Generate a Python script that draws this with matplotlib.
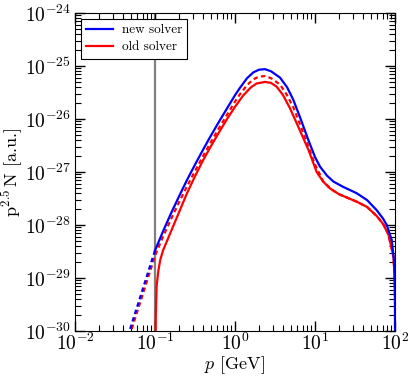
import matplotlib
matplotlib.use('Agg')
import matplotlib.pyplot as plt
import numpy as np

plt.rcParams['font.family'] = 'serif'
plt.rcParams['font.serif'] = ['cmr10', 'DejaVu Serif']
plt.rcParams['mathtext.fontset'] = 'cm'
plt.rcParams['axes.formatter.use_mathtext'] = True

# values, as log10(p) and log10(p^2.5 N)
new_logp = [-1.0, -0.9, -0.8, -0.7, -0.6, -0.5, -0.4, -0.3, -0.2, -0.1, 0.0, 0.0625, 0.15,
            0.229, 0.3, 0.375, 0.45, 0.5625, 0.65, 0.729, 0.82, 0.917, 1.0, 1.0625, 1.15,
            1.229, 1.35, 1.52, 1.65, 1.77, 1.85, 1.896, 1.958, 1.99, 1.999, 2.0]
new_logy = [-28.48, -28.12, -27.78, -27.46, -27.15, -26.86, -26.58, -26.31, -26.05, -25.8, -25.55,
            -25.41, -25.23, -25.12, -25.07, -25.06, -25.10, -25.22, -25.40, -25.64, -26.0, -26.40,
            -26.72, -26.90, -27.07, -27.18, -27.28, -27.40, -27.53, -27.72, -27.88, -28.0, -28.28,
            -28.72, -29.2, -30.5]

new_ext_logp = [-1.34, -1.0]
new_ext_logy = [-30.1, -28.48]

old_logp = [-0.993, -0.99, -0.98, -0.96, -0.935, -0.9, -0.85, -0.8, -0.7, -0.6, -0.5, -0.4,
            -0.3, -0.2, -0.1, 0.0, 0.1, 0.2, 0.27, 0.375, 0.45, 0.52, 0.6, 0.6875, 0.8,
            0.917, 1.02, 1.1, 1.1875, 1.3, 1.52, 1.65, 1.77, 1.85, 1.917, 1.98, 1.995, 2.0, 2.0]
old_logy = [-30.1, -29.7, -29.15, -28.88, -28.66, -28.48, -28.3, -28.12, -27.76, -27.40, -27.08, -26.78,
            -26.51, -26.25, -26.0, -25.77, -25.56, -25.40, -25.33, -25.30, -25.32, -25.39, -25.55,
            -25.80, -26.18, -26.58, -27.0, -27.18, -27.31, -27.42, -27.56, -27.66, -27.83, -27.98,
            -28.18, -28.6, -29.0, -29.54, -30.5]

olddash_logp = [-1.32, -1.0, -0.9, -0.8, -0.7, -0.6, -0.5, -0.4, -0.3, -0.2, -0.1, 0.0, 0.0625,
                0.15, 0.229, 0.3, 0.375, 0.45, 0.5625, 0.65, 0.729, 0.82, 0.917, 1.0, 1.1, 1.1875,
                1.3, 1.52, 1.65, 1.77, 1.85, 1.917, 1.98, 1.995, 2.0, 2.0]
olddash_logy = [-30.1, -28.58, -28.22, -27.89, -27.57, -27.27, -26.98, -26.70, -26.43, -26.17, -25.92,
                -25.67, -25.53, -25.36, -25.25, -25.20, -25.19, -25.23, -25.35, -25.55, -25.78,
                -26.13, -26.52, -26.86, -27.17, -27.31, -27.42, -27.56, -27.66, -27.83, -27.98,
                -28.18, -28.6, -29.0, -29.54, -30.5]


def lin(a):
    return 10**np.asarray(a)


fig = plt.figure(figsize=(4.13, 3.82), dpi=100)
ax = fig.add_axes([0.1816, 0.1335, 0.775, 0.8325])

ax.axvline(0.1, color='gray', lw=1.6, zorder=1)

ax.plot(lin(new_logp), lin(new_logy), color='blue', lw=1.6, label='new solver', zorder=3)
ax.plot(lin(new_ext_logp), lin(new_ext_logy), color='blue', lw=1.6, ls=(0, (2, 1.5)), zorder=3)
ax.plot(lin(old_logp), lin(old_logy), color='red', lw=1.6, label='old solver', zorder=2)
ax.plot(lin(olddash_logp), lin(olddash_logy), color='red', lw=1.6, ls=(0, (2, 1.5)), zorder=2)

ax.set_xscale('log')
ax.set_yscale('log')
ax.set_xlim(1e-2, 1e2)
ax.set_ylim(1e-30, 1e-24)

ax.tick_params(which='both', direction='in', top=True, right=True, labelsize=14)
ax.tick_params(axis='x', pad=1.5)
ax.tick_params(axis='y', pad=3)
ax.tick_params(which='major', length=7, width=1)
ax.tick_params(which='minor', length=4, width=0.8)
ax.yaxis.set_major_locator(matplotlib.ticker.LogLocator(base=10, numticks=10))
ax.yaxis.set_minor_locator(matplotlib.ticker.LogLocator(base=10, subs=np.arange(2, 10), numticks=20))
ax.xaxis.set_minor_locator(matplotlib.ticker.LogLocator(base=10, subs=np.arange(2, 10), numticks=20))

ax.set_xlabel(r'$p$ [GeV]', fontsize=13)
ax.set_ylabel(r'$\mathrm{p}^{2.5}\,\mathrm{N}$ [a.u.]', fontsize=13)
ax.xaxis.set_label_coords(0.5, -0.072)
ax.yaxis.set_label_coords(-0.155, 0.5)

leg = ax.legend(loc='upper left', fontsize=9.5, frameon=True, fancybox=False, edgecolor='black',
                framealpha=1, handlelength=2.0, handletextpad=0.7, borderaxespad=0.45,
                labelspacing=0.35, borderpad=0.4)
leg.get_frame().set_linewidth(0.8)

fig.savefig('out.png', dpi=100)
